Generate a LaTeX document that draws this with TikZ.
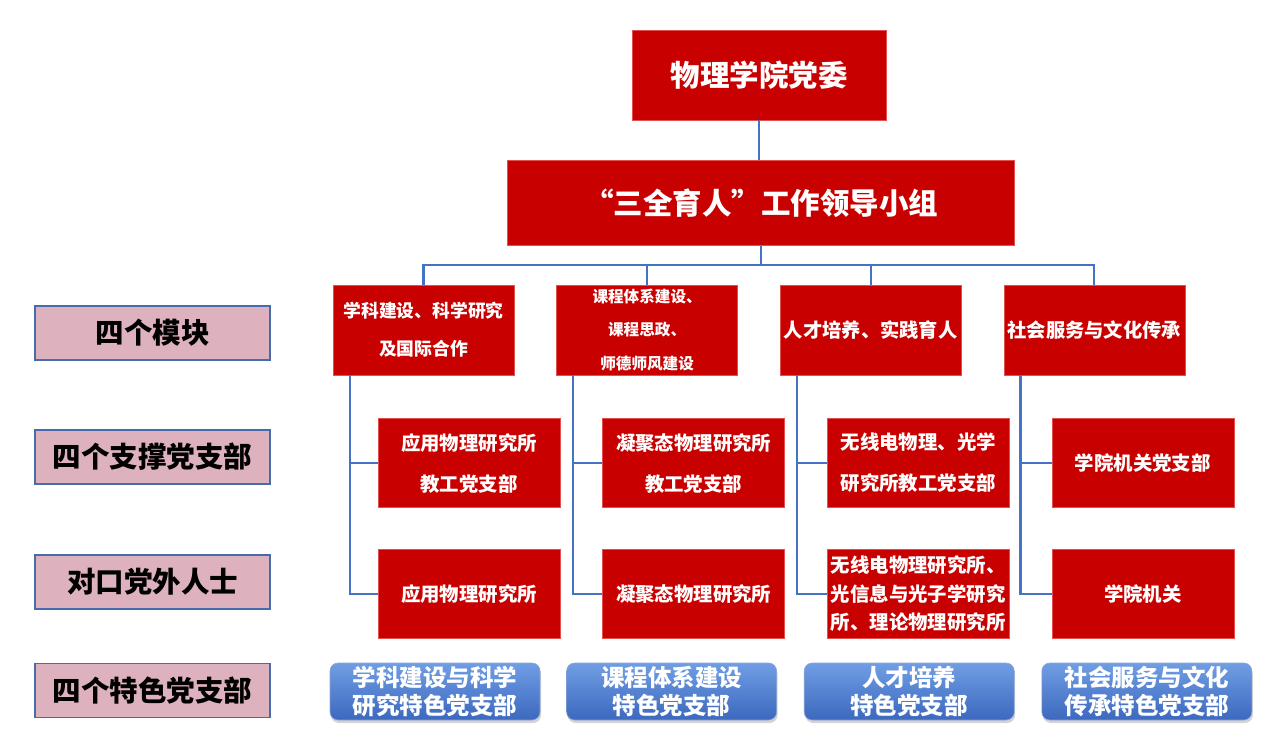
\documentclass[tikz,border=0pt]{standalone}
\usepackage{fontspec}
\setmainfont{Noto Sans CJK SC}
\usepackage{tikz}
\usetikzlibrary{positioning, calc, shadows}

\definecolor{dangred}{RGB}{200,0,0}
\definecolor{dangedge}{RGB}{228,80,80}
\definecolor{linkblue}{RGB}{68,114,196}
\definecolor{tagpink}{RGB}{222,177,190}
\definecolor{tagedge}{RGB}{70,108,170}
\definecolor{btntop}{RGB}{112,158,228}
\definecolor{btnmid}{RGB}{74,120,204}
\definecolor{btnbot}{RGB}{60,104,190}

\newcommand{\fsz}[2]{\fontsize{#1}{#2}\selectfont}

\begin{document}
\begin{tikzpicture}[
    x=1pt, y=1pt,
    node distance=42pt,
    redbox/.style={rectangle, fill=dangred, draw=dangedge, line width=0.6pt, text=white,
                   align=center, inner sep=2pt, font=\bfseries},
    modbox/.style={redbox, minimum width=181pt, minimum height=90pt},
    subbox/.style={redbox, minimum width=182pt, minimum height=89pt, font=\bfseries\fsz{19.4}{41}},
    tag/.style={rectangle, fill=tagpink, draw=tagedge, line width=1.8pt,
                minimum width=235pt, minimum height=54pt, font=\bfseries\fsz{28.5}{34}},
    btn/.style={rectangle, rounded corners=8pt, top color=btntop, middle color=btnmid,
                bottom color=btnbot, draw=btnbot!60!white, line width=0.6pt,
                drop shadow={shadow xshift=1pt, shadow yshift=-3pt, opacity=0.35},
                minimum width=210pt, minimum height=57pt, text=white, align=center,
                inner sep=1pt, font=\bfseries\fsz{23.5}{28}},
    conn/.style={draw=linkblue, line width=2.2pt},
  ]
  \useasboundingbox (0,0) rectangle (1280,-749);

  % 党委与领导小组
  \node[redbox, minimum width=254pt, minimum height=90pt, font=\bfseries\fsz{29.5}{34}] (dw) at (759,-75) {物理学院党委};
  \node[redbox, minimum width=507pt, minimum height=85pt, font=\bfseries\fsz{29.5}{34}, below=40pt of dw, xshift=2pt] (zu) {“三全育人”工作领导小组};

  % 四个模块
  \node[modbox, font=\bfseries\fsz{17.8}{38}] (m1) at (423.5,-330) {学科建设、科学研究\\及国际合作};
  \node[modbox, font=\bfseries\fsz{15.6}{33.5}, right=of m1] (m2) {课程体系建设、\\课程思政、\\师德师风建设};
  \node[modbox, font=\bfseries\fsz{19.3}{24}, right=of m2] (m3) {人才培养、实践育人};
  \node[modbox, font=\bfseries\fsz{19.3}{24}, right=of m3] (m4) {社会服务与文化传承};

  % 支撑党支部
  \node[subbox, below=43pt of m1, xshift=45.5pt] (s1) {应用物理研究所\\教工党支部};
  \node[subbox, right=of s1] (s2) {凝聚态物理研究所\\教工党支部};
  \node[subbox, right=of s2] (s3) {无线电物理、光学\\研究所教工党支部};
  \node[subbox, right=of s3] (s4) {学院机关党支部};

  % 对口党外人士
  \node[subbox, below=41pt of s1] (o1) {应用物理研究所};
  \node[subbox, right=of o1] (o2) {凝聚态物理研究所};
  \node[subbox, right=of o2, font=\bfseries\fsz{19.4}{28.5}] (o3) {无线电物理研究所、\\光信息与光子学研究\\所、理论物理研究所};
  \node[subbox, right=of o3] (o4) {学院机关};

  % 特色党支部
  \node[btn] (b1) at (435,-691.5) {学科建设与科学\\研究特色党支部};
  \node[btn, right=26pt of b1] (b2) {课程体系建设\\特色党支部};
  \node[btn, right=27pt of b2] (b3) {人才培养\\特色党支部};
  \node[btn, right=27pt of b3] (b4) {社会服务与文化\\传承特色党支部};

  % 左侧标签
  \node[tag] (l1) at (152.5,-333) {四个模块};
  \node[tag, below=68pt of l1] (l2) {四个支撑党支部};
  \node[tag, below=69pt of l2] (l3) {对口党外人士};
  \node[tag, below=53pt of l3] (l4) {四个特色党支部};

  % 连线
  \draw[conn] (dw) -- (zu.north -| dw);
  \coordinate[below=19pt of zu] (bus);
  \draw[conn] (zu) -- (bus);
  \foreach \m in {m1,m2,m3,m4}
    \draw[conn] (bus) -| (\m);
  \foreach \i in {1,...,4} {
    \coordinate (t\i) at ([xshift=17pt]m\i.south west);
    \draw[conn] (t\i) |- (o\i);
    \draw[conn] (t\i |- s\i) -- (s\i);
  }
\end{tikzpicture}
\end{document}
